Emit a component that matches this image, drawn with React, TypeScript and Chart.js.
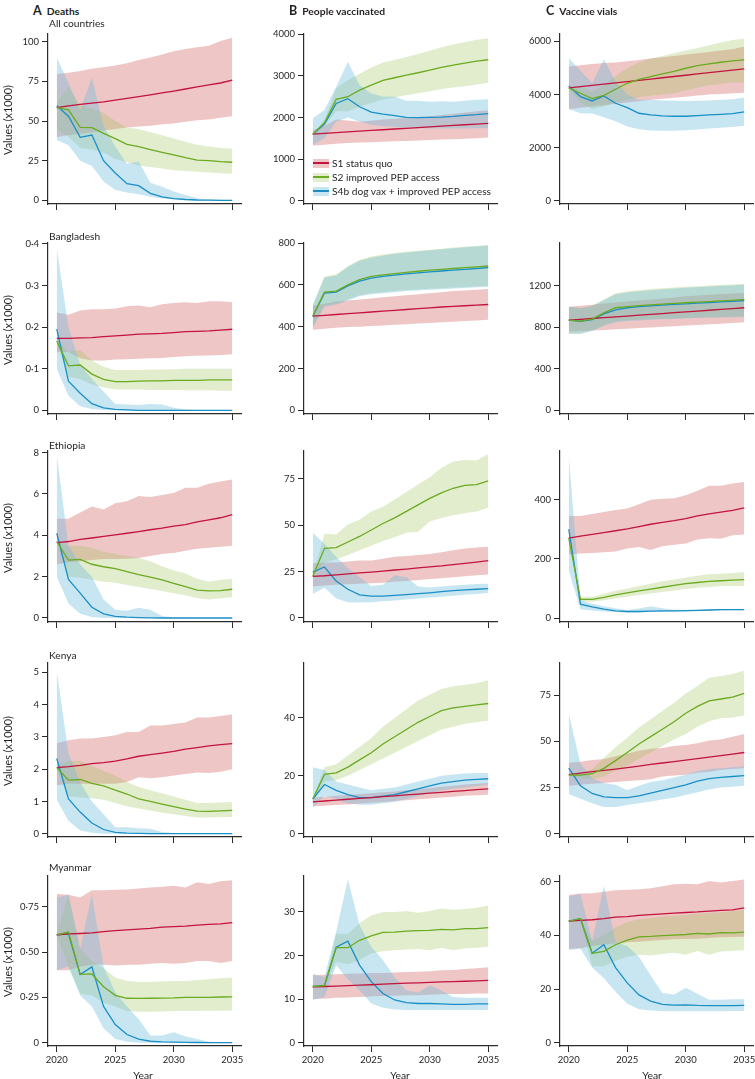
import React, { useEffect, useRef } from 'react';
import { Chart, registerables } from 'chart.js';
Chart.register(...registerables);

// ---------------- DATA ----------------
const years = [2020, 2021, 2022, 2023, 2024, 2025, 2026, 2027, 2028, 2029, 2030, 2031, 2032, 2033, 2034, 2035];
const xTicks = [2020, 2025, 2030, 2035];
const seriesNames = ['S1 status quo', 'S2 improved PEP access', 'S4b dog vax + improved PEP access'];
const columnTitles = ['Deaths', 'People vaccinated', 'Vaccine vials'];
const columnLetters = ['A', 'B', 'C'];
const regions = ['All countries', 'Bangladesh', 'Ethiopia', 'Kenya', 'Myanmar'];

// All countries – deaths
const allDeathsS1 = [58.4, 59.5, 60.5, 61.3, 62.1, 63.2, 64.3, 65.4, 66.5, 67.7, 68.9, 70.2, 71.5, 72.8, 74.0, 75.8];
const allDeathsS1Lo = [40, 41, 42, 43, 44, 45, 46, 46.5, 47, 48, 48.5, 49.5, 50.5, 51, 52, 53];
const allDeathsS1Hi = [79.6, 80.5, 81.5, 83, 84, 85, 86.5, 88.5, 90, 92, 94, 95.5, 96.5, 97.5, 100.5, 102.5];
const allDeathsS2 = [58.5, 57, 46, 45.8, 42.2, 38.9, 35.3, 33.8, 32, 30.3, 28.6, 26.9, 25.4, 25, 24.4, 24];
const allDeathsS2Lo = [45, 40, 33, 32, 30, 26, 24, 22, 21, 20, 19, 18.5, 18, 17.5, 17, 16.8];
const allDeathsS2Hi = [62, 72, 60, 58, 55, 50, 46, 45, 43, 41, 39, 37, 35, 34, 33, 32.5];
const allDeathsS4 = [59.7, 53, 39.7, 41.2, 25, 17.2, 10.5, 9.2, 4.4, 2.1, 1, 0.5, 0.2, 0.1, 0, 0];
const allDeathsS4Lo = [38, 34.7, 25, 21.6, 11.8, 6.5, 5, 3.8, 2.3, 1.2, 0.6, 0.3, 0.1, 0, 0, 0];
const allDeathsS4Hi = [90, 74, 57, 77.5, 47, 34, 23, 24.4, 11, 8.6, 5.5, 3.4, 1.3, 0.5, 0.3, 0.2];
const allDeathsTicks = ['0', '25', '50', '75', '100'];

// All countries – people vaccinated
const allVaccS1 = [1600, 1618, 1636, 1654, 1672, 1690, 1707, 1724, 1741, 1758, 1775, 1792, 1809, 1826, 1842, 1858];
const allVaccS1Lo = [1330, 1350, 1370, 1390, 1400, 1410, 1420, 1430, 1440, 1450, 1460, 1470, 1480, 1490, 1505, 1520];
const allVaccS1Hi = [1700, 1800, 1950, 1930, 1900, 1920, 1950, 1970, 1990, 2010, 2030, 2060, 2090, 2120, 2150, 2175];
const allVaccS2 = [1600, 1875, 2434, 2498, 2657, 2777, 2889, 2952, 3016, 3072, 3136, 3200, 3256, 3303, 3351, 3383];
const allVaccS2Lo = [1600, 1800, 2150, 2150, 2250, 2350, 2430, 2480, 2530, 2580, 2630, 2680, 2720, 2750, 2790, 2830];
const allVaccS2Hi = [1600, 1950, 2700, 2900, 3050, 3200, 3320, 3380, 3450, 3520, 3600, 3680, 3750, 3800, 3860, 3900];
const allVaccS4 = [1600, 1843, 2337, 2449, 2258, 2130, 2083, 2043, 2003, 1995, 2003, 2011, 2027, 2051, 2067, 2091];
const allVaccS4Lo = [1340, 1500, 1900, 2000, 1900, 1820, 1790, 1770, 1750, 1740, 1735, 1735, 1735, 1738, 1740, 1745];
const allVaccS4Hi = [1979, 2180, 2737, 3335, 2777, 2577, 2500, 2500, 2400, 2400, 2380, 2390, 2380, 2400, 2425, 2435];
const allVaccTicks = ['0', '1000', '2000', '3000', '4000'];

// All countries – vaccine vials
const allVialsS1 = [4250, 4297, 4345, 4392, 4440, 4487, 4535, 4582, 4630, 4677, 4725, 4772, 4820, 4867, 4915, 4960];
const allVialsS1Lo = [3450, 3500, 3550, 3600, 3650, 3700, 3750, 3800, 3840, 3880, 3920, 3960, 4000, 4020, 4050, 4070];
const allVialsS1Hi = [5050, 5100, 5150, 5180, 5200, 5250, 5300, 5350, 5400, 5450, 5500, 5550, 5600, 5650, 5700, 5800];
const allVialsS2 = [4250, 4047, 3846, 3972, 4197, 4423, 4573, 4674, 4774, 4874, 4987, 5087, 5150, 5212, 5262, 5300];
const allVialsS2Lo = [4200, 3700, 3450, 3550, 3700, 3800, 3900, 3950, 4000, 4050, 4150, 4250, 4350, 4400, 4450, 4450];
const allVialsS2Hi = [4300, 4300, 4100, 4350, 4700, 5000, 5200, 5350, 5450, 5550, 5650, 5750, 5850, 5950, 6050, 6100];
const allVialsS4 = [4323, 3922, 3759, 3947, 3672, 3508, 3296, 3233, 3196, 3183, 3183, 3208, 3233, 3258, 3283, 3346];
const allVialsS4Lo = [3458, 3300, 3283, 3150, 3000, 2800, 2700, 2650, 2640, 2640, 2660, 2690, 2720, 2750, 2780, 2830];
const allVialsS4Hi = [5363, 4900, 4423, 5325, 4500, 4000, 3800, 3800, 3780, 3770, 3760, 3770, 3780, 3800, 3820, 3884];
const allVialsTicks = ['0', '2000', '4000', '6000'];

// Bangladesh
const bdDeathsS1 = [0.173, 0.173, 0.174, 0.175, 0.177, 0.179, 0.181, 0.183, 0.184, 0.185, 0.187, 0.189, 0.19, 0.191, 0.193, 0.195];
const bdDeathsS1Lo = [0.14, 0.14, 0.125, 0.12, 0.12, 0.122, 0.123, 0.124, 0.125, 0.126, 0.128, 0.13, 0.131, 0.132, 0.133, 0.135];
const bdDeathsS1Hi = [0.235, 0.23, 0.24, 0.243, 0.243, 0.245, 0.25, 0.252, 0.248, 0.255, 0.258, 0.26, 0.258, 0.262, 0.262, 0.26];
const bdDeathsS2 = [0.167, 0.107, 0.109, 0.087, 0.0745, 0.069, 0.069, 0.07, 0.071, 0.071, 0.072, 0.072, 0.072, 0.073, 0.073, 0.073];
const bdDeathsS2Lo = [0.16, 0.08, 0.075, 0.062, 0.055, 0.05, 0.05, 0.05, 0.049, 0.049, 0.049, 0.048, 0.048, 0.048, 0.047, 0.047];
const bdDeathsS2Hi = [0.17, 0.14, 0.145, 0.12, 0.105, 0.097, 0.097, 0.097, 0.098, 0.098, 0.099, 0.1, 0.1, 0.1, 0.1, 0.1];
const bdDeathsS4 = [0.195, 0.07, 0.041, 0.016, 0.006, 0.002, 0.001, 0, 0, 0, 0, 0, 0, 0, 0, 0];
const bdDeathsS4Lo = [0.1, 0.035, 0.01, 0.003, 0.001, 0, 0, 0, 0, 0, 0, 0, 0, 0, 0, 0];
const bdDeathsS4Hi = [0.39, 0.2, 0.11, 0.075, 0.045, 0.015, 0.014, 0.013, 0.015, 0.014, 0.006, 0.002, 0.001, 0.001, 0.001, 0.001];
const bdDeathsTicks = ['0', '0·1', '0·2', '0·3', '0·4'];

const bdVaccS1 = [450, 454, 458, 462, 466, 470, 474, 478, 482, 486, 490, 494, 497, 500, 503, 506];
const bdVaccS1Lo = [385, 390, 395, 398, 400, 403, 406, 409, 412, 415, 418, 421, 424, 427, 430, 433];
const bdVaccS1Hi = [500, 510, 520, 525, 530, 535, 540, 545, 550, 555, 560, 565, 570, 573, 576, 580];
const bdVaccS2 = [450, 565, 570, 600, 625, 640, 648, 654, 660, 665, 670, 674, 678, 682, 686, 690];
const bdVaccS2Lo = [400, 500, 510, 530, 550, 560, 565, 570, 575, 578, 581, 584, 587, 590, 592, 595];
const bdVaccS2Hi = [500, 640, 650, 690, 720, 735, 745, 752, 758, 763, 768, 773, 778, 782, 786, 790];
const bdVaccS4 = [450, 560, 565, 595, 618, 632, 640, 646, 652, 657, 662, 666, 670, 674, 678, 682];
const bdVaccS4Lo = [395, 495, 505, 525, 545, 555, 560, 565, 570, 573, 576, 579, 582, 585, 588, 590];
const bdVaccS4Hi = [505, 635, 645, 685, 715, 730, 740, 748, 755, 760, 765, 770, 775, 780, 784, 788];
const bdVaccTicks = ['0', '200', '400', '600', '800'];

const bdVialsS1 = [870, 878, 886, 894, 902, 910, 918, 926, 934, 942, 950, 958, 966, 974, 982, 990];
const bdVialsS1Lo = [760, 765, 770, 776, 782, 788, 794, 800, 806, 812, 818, 824, 830, 836, 843, 850];
const bdVialsS1Hi = [1000, 1010, 1020, 1030, 1040, 1050, 1060, 1070, 1080, 1090, 1100, 1108, 1116, 1122, 1128, 1135];
const bdVialsS2 = [870, 860, 880, 940, 990, 1000, 1010, 1018, 1025, 1032, 1038, 1044, 1050, 1056, 1062, 1070];
const bdVialsS2Lo = [740, 740, 770, 820, 860, 870, 875, 880, 884, 888, 892, 895, 898, 900, 902, 905];
const bdVialsS2Hi = [1000, 990, 1010, 1070, 1130, 1150, 1160, 1170, 1178, 1185, 1192, 1198, 1204, 1210, 1215, 1220];
const bdVialsS4 = [870, 858, 876, 930, 970, 990, 1000, 1008, 1015, 1022, 1028, 1034, 1040, 1046, 1052, 1060];
const bdVialsS4Lo = [740, 738, 765, 815, 850, 862, 868, 873, 878, 882, 886, 890, 893, 896, 899, 902];
const bdVialsS4Hi = [1000, 985, 1005, 1065, 1120, 1140, 1150, 1160, 1168, 1176, 1184, 1190, 1196, 1202, 1208, 1214];
const bdVialsTicks = ['0', '400', '800', '1200'];

// Ethiopia
const etDeathsS1 = [3.65, 3.7, 3.8, 3.87, 3.95, 4.02, 4.1, 4.18, 4.27, 4.35, 4.45, 4.52, 4.65, 4.75, 4.85, 5.0];
const etDeathsS1Lo = [2.6, 2.7, 2.75, 2.8, 2.85, 2.85, 2.87, 2.9, 3.0, 3.1, 3.15, 3.25, 3.35, 3.4, 3.45, 3.5];
const etDeathsS1Hi = [4.8, 4.8, 5.1, 5.4, 5.25, 5.55, 5.65, 5.9, 5.85, 5.95, 6.05, 6.3, 6.3, 6.5, 6.6, 6.7];
const etDeathsS2 = [3.7, 2.8, 2.84, 2.6, 2.48, 2.39, 2.24, 2.1, 1.98, 1.84, 1.68, 1.52, 1.35, 1.31, 1.32, 1.39];
const etDeathsS2Lo = [3.6, 2.0, 1.95, 1.85, 1.75, 1.7, 1.6, 1.5, 1.4, 1.3, 1.2, 1.1, 0.95, 0.9, 0.95, 1.0];
const etDeathsS2Hi = [3.7, 3.5, 3.5, 3.4, 3.2, 3.1, 3.0, 2.9, 2.75, 2.5, 2.3, 2.15, 1.9, 1.75, 1.85, 1.9];
const etDeathsS4 = [4.1, 1.87, 1.2, 0.52, 0.2, 0.08, 0.04, 0.02, 0.01, 0, 0, 0, 0, 0, 0, 0];
const etDeathsS4Lo = [2.0, 0.7, 0.2, 0.05, 0, 0, 0, 0, 0, 0, 0, 0, 0, 0, 0, 0];
const etDeathsS4Hi = [7.9, 3.5, 2.6, 2.0, 0.9, 0.4, 0.35, 0.5, 0.4, 0.1, 0.02, 0, 0, 0, 0, 0];
const etDeathsTicks = ['0', '2', '4', '6', '8'];

const etVaccS1 = [22.5, 22.8, 23.3, 23.8, 24.3, 24.8, 25.3, 25.9, 26.4, 27.0, 27.6, 28.1, 28.8, 29.5, 30.2, 31.0];
const etVaccS1Lo = [17, 17.5, 18, 18.2, 18.5, 18.8, 19, 19.5, 20, 20.5, 21, 21.5, 22, 22.5, 23, 23.5];
const etVaccS1Hi = [29.5, 30, 30, 30.5, 31, 31, 32, 33, 33.5, 34, 34.5, 35.5, 36.5, 37.5, 38, 38.5];
const etVaccS2 = [22.5, 37.6, 38, 41, 44, 47.5, 51, 54, 57.5, 61, 64.5, 67.5, 70, 71.5, 72, 74];
const etVaccS2Lo = [22, 30, 31.5, 34, 36.5, 39, 41.5, 43.5, 46, 46.5, 52, 54, 55.5, 56.5, 57.5, 59.5];
const etVaccS2Hi = [23, 45.5, 45, 50.5, 53, 57.5, 60, 64, 68, 72, 76, 81, 84.5, 85.3, 85, 88.5];
const etVaccS4 = [24.8, 27.5, 20, 15.5, 12.5, 11.8, 11.8, 12.2, 12.6, 13.1, 13.6, 14.2, 14.8, 15.2, 15.5, 15.8];
const etVaccS4Lo = [13, 16.5, 10.5, 8.5, 8.3, 8.5, 9, 9.5, 10, 10.5, 11, 11.5, 12, 12.5, 13, 13.5];
const etVaccS4Hi = [46, 40, 33, 27, 22, 17.3, 18, 23, 22, 17, 16.5, 17, 17.5, 18, 18.3, 18.5];
const etVaccTicks = ['0', '25', '50', '75'];

const etVialsS1 = [270, 277, 283, 289, 295, 301, 309, 317, 323, 329, 336, 345, 352, 358, 364, 372];
const etVialsS1Lo = [215, 218, 220, 222, 225, 235, 240, 230, 243, 248, 252, 265, 270, 268, 280, 282];
const etVialsS1Hi = [345, 345, 352, 358, 365, 370, 385, 400, 403, 405, 415, 430, 447, 447, 455, 460];
const etVialsS2 = [270, 63, 63, 70, 78, 85, 92, 98, 104, 110, 116, 120, 124, 126, 128, 130];
const etVialsS2Lo = [268, 55, 55, 60, 66, 72, 78, 83, 88, 93, 98, 102, 105, 108, 108, 108];
const etVialsS2Hi = [272, 72, 72, 82, 92, 100, 108, 116, 124, 130, 136, 143, 148, 150, 152, 155];
const etVialsS4 = [300, 47, 38, 30, 24, 22, 22, 23, 24, 24, 25, 26, 27, 28, 28, 28];
const etVialsS4Lo = [160, 30, 25, 22, 20, 18, 19, 20, 20, 21, 22, 23, 24, 25, 26, 26];
const etVialsS4Hi = [550, 60, 48, 40, 33, 27, 32, 40, 33, 28, 27, 28, 29, 30, 30, 30];
const etVialsTicks = ['0', '200', '400'];

// Kenya
const keDeathsS1 = [2.05, 2.08, 2.12, 2.17, 2.2, 2.25, 2.32, 2.4, 2.45, 2.5, 2.55, 2.62, 2.67, 2.72, 2.76, 2.79];
const keDeathsS1Lo = [1.5, 1.55, 1.55, 1.55, 1.55, 1.55, 1.6, 1.75, 1.72, 1.75, 1.8, 1.85, 1.9, 1.88, 1.92, 2.0];
const keDeathsS1Hi = [2.8, 2.9, 2.95, 2.95, 3.0, 3.05, 3.15, 3.15, 3.35, 3.35, 3.4, 3.45, 3.6, 3.6, 3.65, 3.7];
const keDeathsS2 = [2.05, 1.66, 1.68, 1.56, 1.48, 1.35, 1.23, 1.08, 1.0, 0.92, 0.84, 0.76, 0.7, 0.69, 0.71, 0.72];
const keDeathsS2Lo = [2.0, 1.15, 1.12, 1.1, 1.05, 0.95, 0.85, 0.78, 0.72, 0.65, 0.6, 0.55, 0.5, 0.5, 0.52, 0.52];
const keDeathsS2Hi = [2.1, 2.25, 2.25, 2.1, 1.95, 1.8, 1.6, 1.45, 1.35, 1.25, 1.15, 1.05, 0.95, 0.95, 0.97, 0.98];
const keDeathsS4 = [2.33, 1.08, 0.67, 0.33, 0.13, 0.04, 0.02, 0.01, 0, 0, 0, 0, 0, 0, 0, 0];
const keDeathsS4Lo = [1.05, 0.4, 0.1, 0.03, 0, 0, 0, 0, 0, 0, 0, 0, 0, 0, 0, 0];
const keDeathsS4Hi = [5.05, 2.5, 1.6, 1.0, 0.6, 0.2, 0.2, 0.17, 0.15, 0.05, 0.02, 0.01, 0, 0, 0, 0];
const keDeathsTicks = ['0', '1', '2', '3', '4', '5'];

const keVaccS1 = [11, 11.3, 11.6, 11.9, 12.2, 12.5, 12.8, 13.1, 13.4, 13.7, 14, 14.3, 14.6, 14.9, 15.2, 15.5];
const keVaccS1Lo = [9.5, 9.7, 9.9, 10.1, 10.4, 10.7, 11, 11.3, 11.6, 11.9, 12.2, 12.5, 12.8, 13.1, 13.3, 13.5];
const keVaccS1Hi = [12.5, 12.8, 13.1, 13.4, 13.7, 14, 14.3, 14.6, 15, 15.4, 15.8, 16.2, 16.6, 17, 17.3, 17.5];
const keVaccS2 = [12, 20.5, 21, 23, 25.5, 28, 31, 33.5, 36, 38.5, 40.5, 42.5, 43.5, 44, 44.5, 45];
const keVaccS2Lo = [11, 18, 18.5, 20, 22, 24, 26, 28, 30, 32, 34, 36, 37, 38, 38.5, 39];
const keVaccS2Hi = [12, 23, 24, 27, 30, 33, 37, 40, 43, 46, 48, 50, 51, 51.5, 52, 53];
const keVaccS4 = [12, 17, 15, 13.5, 12.5, 12.5, 13, 13.5, 14.5, 15.5, 16.5, 17.5, 18, 18.5, 18.8, 19];
const keVaccS4Lo = [9, 13, 12, 10.5, 10, 10, 10.5, 11, 12, 13, 14, 15, 15.5, 16, 16.5, 17];
const keVaccS4Hi = [23, 22, 18, 17, 16, 15, 15.5, 16, 17, 18, 19, 20, 20.5, 20.8, 21, 21];
const keVaccTicks = ['0', '20', '40'];

const keVialsS1 = [32, 32.8, 33.6, 34.3, 35, 35.8, 36.6, 37.6, 38.3, 39.1, 39.9, 40.7, 41.5, 42.3, 43.1, 44];
const keVialsS1Lo = [26, 26.5, 27, 27.5, 28, 28.5, 29, 29.5, 31, 31.5, 32, 33, 33.5, 34.5, 35, 35.5];
const keVialsS1Hi = [38.5, 39, 40, 40.5, 42, 43.5, 45, 46, 46.5, 47.5, 48, 49, 50.5, 51, 52.5, 54];
const keVialsS2 = [31.8, 31.7, 32.5, 35.4, 39.6, 44, 48.6, 52.6, 56.6, 60.7, 65.3, 69, 72, 73, 74, 76];
const keVialsS2Lo = [31, 30, 29.5, 31, 34, 37, 40.5, 44, 47.5, 51, 54, 58, 61, 62.5, 63, 64];
const keVialsS2Hi = [32.5, 33, 35, 41, 47, 52, 57.5, 62, 66.5, 71, 76, 80, 84.5, 85.5, 86.5, 88.5];
const keVialsS4 = [35.5, 26, 21.8, 20, 19.5, 19.6, 20.5, 22, 23.5, 25, 26.5, 28.5, 29.8, 30.5, 31, 31.5];
const keVialsS4Lo = [21.5, 19, 16.5, 14.5, 14.5, 15.5, 16.5, 17.5, 18.5, 19.5, 21, 22.5, 24, 25, 25.5, 26];
const keVialsS4Hi = [65, 38, 30, 27.5, 26.5, 23.5, 26, 28, 29, 30.5, 32, 34, 35, 35.5, 36, 36.5];
const keVialsTicks = ['0', '25', '50', '75'];

// Myanmar
const myDeathsS1 = [0.595, 0.6, 0.602, 0.605, 0.612, 0.618, 0.622, 0.626, 0.63, 0.637, 0.64, 0.643, 0.648, 0.652, 0.655, 0.662];
const myDeathsS1Lo = [0.4, 0.4, 0.42, 0.43, 0.43, 0.425, 0.43, 0.43, 0.435, 0.44, 0.435, 0.44, 0.45, 0.45, 0.44, 0.45];
const myDeathsS1Hi = [0.82, 0.815, 0.8, 0.84, 0.84, 0.843, 0.845, 0.85, 0.855, 0.86, 0.865, 0.855, 0.885, 0.875, 0.89, 0.895];
const myDeathsS2 = [0.595, 0.61, 0.377, 0.379, 0.309, 0.261, 0.245, 0.244, 0.245, 0.246, 0.247, 0.25, 0.25, 0.25, 0.252, 0.253];
const myDeathsS2Lo = [0.59, 0.42, 0.27, 0.26, 0.22, 0.2, 0.175, 0.17, 0.17, 0.172, 0.175, 0.175, 0.175, 0.176, 0.176, 0.178];
const myDeathsS2Hi = [0.6, 0.82, 0.52, 0.45, 0.41, 0.36, 0.34, 0.335, 0.335, 0.338, 0.34, 0.34, 0.345, 0.35, 0.355, 0.36];
const myDeathsS4 = [0.595, 0.6, 0.376, 0.418, 0.2, 0.1, 0.045, 0.02, 0.008, 0.004, 0.003, 0.002, 0.001, 0, 0, 0];
const myDeathsS4Lo = [0.4, 0.42, 0.26, 0.2, 0.08, 0.02, 0.005, 0, 0, 0, 0, 0, 0, 0, 0, 0];
const myDeathsS4Hi = [0.8, 0.815, 0.52, 0.82, 0.42, 0.28, 0.2, 0.13, 0.04, 0.04, 0.058, 0.035, 0.02, 0.005, 0.002, 0.002];
const myDeathsTicks = ['0', '0·25', '0·50', '0·75'];

const myVaccS1 = [12.8, 12.9, 13.0, 13.1, 13.2, 13.3, 13.45, 13.55, 13.65, 13.75, 13.85, 13.95, 14.0, 14.1, 14.2, 14.3];
const myVaccS1Lo = [10.0, 10.1, 10.3, 10.4, 10.5, 10.6, 10.7, 10.8, 10.9, 10.9, 11.0, 11.1, 11.2, 11.2, 11.3, 11.3];
const myVaccS1Hi = [15.5, 15.6, 15.7, 15.8, 15.9, 16.0, 16.0, 16.1, 16.2, 16.3, 16.4, 16.6, 16.7, 16.9, 17.1, 17.3];
const myVaccS2 = [12.9, 13.1, 21.8, 21.8, 23.5, 24.5, 25.3, 25.4, 25.6, 25.7, 25.8, 26.0, 25.9, 26.2, 26.2, 26.4];
const myVaccS2Lo = [12.8, 12.8, 18.5, 18, 19, 20.5, 21, 21.2, 21.4, 21.5, 21.2, 21.8, 21.2, 21.6, 21.8, 22];
const myVaccS2Hi = [13.0, 13.5, 25, 25, 27.5, 29.2, 30, 30, 30.2, 29.8, 30.2, 30.8, 30.5, 30.7, 31, 31.5];
const myVaccS4 = [12.9, 13.1, 21.9, 23.3, 17.8, 14.0, 11.3, 9.8, 9.2, 9.0, 9.0, 8.9, 8.8, 8.8, 8.9, 8.9];
const myVaccS4Lo = [9.8, 10.5, 17.8, 14.5, 12, 9, 8, 7.6, 7.5, 7.5, 7.5, 7.5, 7.5, 7.5, 7.5, 7.5];
const myVaccS4Hi = [15.8, 15.0, 25.5, 37.5, 27, 22, 19, 15, 12, 11.5, 13.2, 12, 10.5, 10.3, 10.3, 10.3];
const myVaccTicks = ['0', '10', '20', '30'];

const myVialsS1 = [45.3, 45.6, 45.8, 46.2, 46.8, 47.0, 47.4, 47.7, 48.0, 48.3, 48.5, 48.7, 49.0, 49.3, 49.5, 50.2];
const myVialsS1Lo = [35, 35.2, 36, 36.5, 37, 37.4, 37.6, 38, 38.3, 38.5, 38.6, 38.7, 39, 39.3, 39.4, 39.5];
const myVialsS1Hi = [55, 55.6, 55.7, 56.2, 56.8, 57, 57.2, 57.5, 58.3, 59, 59.2, 59, 60.2, 59.7, 60.2, 60.8];
const myVialsS2 = [45.3, 46.2, 33.3, 34, 36.5, 38.2, 39.4, 39.6, 39.9, 40.1, 40.3, 40.7, 40.5, 41, 40.9, 41.2];
const myVialsS2Lo = [45, 45.5, 28.5, 28.5, 30.5, 32, 32.8, 32.5, 33, 33.5, 32.8, 34.2, 32.8, 34, 34.2, 34.5];
const myVialsS2Hi = [45.5, 46.5, 38, 40, 43, 45, 46, 46.5, 47, 47.3, 47.6, 48, 48.3, 48.6, 49, 49.5];
const myVialsS4 = [45.3, 46.2, 33.3, 36.5, 28, 22.3, 17.8, 15.5, 14.3, 14.0, 14.1, 13.9, 13.8, 13.8, 13.8, 13.9];
const myVialsS4Lo = [34.5, 35, 28, 24, 19, 14.5, 12.5, 12, 11.8, 11.7, 11.7, 11.7, 11.7, 11.7, 11.8, 11.8];
const myVialsS4Hi = [54.5, 55.5, 38, 58.5, 37.5, 36, 32, 25, 18.5, 18, 20.5, 18.2, 16, 16, 16.2, 16.2];
const myVialsTicks = ['0', '20', '40', '60'];

// ---------------- STYLE / LAYOUT ----------------
const FONT = 'Lato, "Open Sans", sans-serif';
const TEXT = '#231f20';
const AXIS = '#2b2b2b';
const LINE_COLORS = ['#c2143c', '#6aab1f', '#1a8fc6'];
const BAND_COLORS = ['rgba(214,112,112,0.40)', 'rgba(150,190,80,0.28)', 'rgba(110,190,222,0.38)'];

const COL_LEFT = [48, 304, 560];
const PLOT_W = 193;
const ROW_TOP = [34, 243, 451, 663, 876];
const ROW_BOTTOM = [204, 414, 622, 837, 1046];
const YW = 46;
const PAD_TOP = 8;
const PAD_RIGHT = 14;

type Panel = {
  row: number; col: number; ticks: string[]; yMin: number; yMax: number;
  mids: number[][]; los: number[][]; his: number[][];
};

const P = (row: number, col: number, ticks: string[], yMin: number, yMax: number,
  s1: number[], s1Lo: number[], s1Hi: number[], s2: number[], s2Lo: number[], s2Hi: number[],
  s4: number[], s4Lo: number[], s4Hi: number[]): Panel => ({
  row, col, ticks, yMin, yMax, mids: [s1, s2, s4], los: [s1Lo, s2Lo, s4Lo], his: [s1Hi, s2Hi, s4Hi],
});

const panels: Panel[] = [
  P(0, 0, allDeathsTicks, -2.33, 104.9, allDeathsS1, allDeathsS1Lo, allDeathsS1Hi, allDeathsS2, allDeathsS2Lo, allDeathsS2Hi, allDeathsS4, allDeathsS4Lo, allDeathsS4Hi),
  P(0, 1, allVaccTicks, -72, 4000, allVaccS1, allVaccS1Lo, allVaccS1Hi, allVaccS2, allVaccS2Lo, allVaccS2Hi, allVaccS4, allVaccS4Lo, allVaccS4Hi),
  P(0, 2, allVialsTicks, -113, 6274, allVialsS1, allVialsS1Lo, allVialsS1Hi, allVialsS2, allVialsS2Lo, allVialsS2Hi, allVialsS4, allVialsS4Lo, allVialsS4Hi),
  P(1, 0, bdDeathsTicks, -0.0089, 0.4024, bdDeathsS1, bdDeathsS1Lo, bdDeathsS1Hi, bdDeathsS2, bdDeathsS2Lo, bdDeathsS2Hi, bdDeathsS4, bdDeathsS4Lo, bdDeathsS4Hi),
  P(1, 1, bdVaccTicks, -17.7, 800, bdVaccS1, bdVaccS1Lo, bdVaccS1Hi, bdVaccS2, bdVaccS2Lo, bdVaccS2Hi, bdVaccS4, bdVaccS4Lo, bdVaccS4Hi),
  P(1, 2, bdVialsTicks, -35.7, 1615, bdVialsS1, bdVialsS1Lo, bdVialsS1Hi, bdVialsS2, bdVialsS2Lo, bdVialsS2Hi, bdVialsS4, bdVialsS4Lo, bdVialsS4Hi),
  P(2, 0, etDeathsTicks, -0.194, 8.08, etDeathsS1, etDeathsS1Lo, etDeathsS1Hi, etDeathsS2, etDeathsS2Lo, etDeathsS2Hi, etDeathsS4, etDeathsS4Lo, etDeathsS4Hi),
  P(2, 1, etVaccTicks, -2.16, 90.1, etVaccS1, etVaccS1Lo, etVaccS1Hi, etVaccS2, etVaccS2Lo, etVaccS2Hi, etVaccS4, etVaccS4Lo, etVaccS4Hi),
  P(2, 2, etVialsTicks, -13.5, 564.6, etVialsS1, etVialsS1Lo, etVialsS1Hi, etVialsS2, etVialsS2Lo, etVialsS2Hi, etVialsS4, etVialsS4Lo, etVialsS4Hi),
  P(3, 0, keDeathsTicks, -0.102, 5.29, keDeathsS1, keDeathsS1Lo, keDeathsS1Hi, keDeathsS2, keDeathsS2Lo, keDeathsS2Hi, keDeathsS4, keDeathsS4Lo, keDeathsS4Hi),
  P(3, 1, keVaccTicks, -1.14, 59, keVaccS1, keVaccS1Lo, keVaccS1Hi, keVaccS2, keVaccS2Lo, keVaccS2Hi, keVaccS4, keVaccS4Lo, keVaccS4Hi),
  P(3, 2, keVialsTicks, -1.79, 92.5, keVialsS1, keVialsS1Lo, keVialsS1Hi, keVialsS2, keVialsS2Lo, keVialsS2Hi, keVialsS4, keVialsS4Lo, keVialsS4Hi),
  P(4, 0, myDeathsTicks, -0.0182, 0.919, myDeathsS1, myDeathsS1Lo, myDeathsS1Hi, myDeathsS2, myDeathsS2Lo, myDeathsS2Hi, myDeathsS4, myDeathsS4Lo, myDeathsS4Hi),
  P(4, 1, myVaccTicks, -0.76, 38.26, myVaccS1, myVaccS1Lo, myVaccS1Hi, myVaccS2, myVaccS2Lo, myVaccS2Hi, myVaccS4, myVaccS4Lo, myVaccS4Hi),
  P(4, 2, myVialsTicks, -1.23, 62.1, myVialsS1, myVialsS1Lo, myVialsS1Hi, myVialsS2, myVialsS2Lo, myVialsS2Hi, myVialsS4, myVialsS4Lo, myVialsS4Hi),
];

const toPts = (vals: number[]) => vals.map((v, i) => ({ x: years[i], y: v }));

function PanelChart({ p }: { p: Panel }) {
  const ref = useRef<HTMLCanvasElement>(null);
  const isBottom = p.row === 4;
  const xh = isBottom ? 26 : 8;
  const plotH = ROW_BOTTOM[p.row] - ROW_TOP[p.row];
  const w = YW + PLOT_W + PAD_RIGHT;
  const h = PAD_TOP + plotH + xh;
  const left = COL_LEFT[p.col] - YW;
  const top = ROW_TOP[p.row] - PAD_TOP;

  useEffect(() => {
    const tickVals = p.ticks.map((t) => parseFloat(t.replace('·', '.')));
    const datasets: any[] = [];
    // lines: earlier datasets are drawn on top
    [1, 0, 2].forEach((s) => {
      datasets.push({
        data: toPts(p.mids[s]), borderColor: LINE_COLORS[s], borderWidth: 1.3,
        pointRadius: 0, fill: false, tension: 0, backgroundColor: 'rgba(0,0,0,0)',
      });
    });
    // bands: filler paints from the last dataset to the first, so blue ends on top
    [2, 1, 0].forEach((s) => {
      datasets.push({
        data: toPts(p.los[s]), borderColor: 'rgba(0,0,0,0)', borderWidth: 1,
        pointRadius: 0, fill: false, tension: 0, backgroundColor: 'rgba(0,0,0,0)',
      });
      datasets.push({
        data: toPts(p.his[s]), borderColor: 'rgba(0,0,0,0)', borderWidth: 1,
        pointRadius: 0, fill: '-1', tension: 0, backgroundColor: BAND_COLORS[s],
      });
    });
    const tickFont = { family: FONT, size: 9.5 };
    const chart = new Chart(ref.current as HTMLCanvasElement, {
      type: 'line',
      data: { datasets },
      options: {
        responsive: false,
        animation: false,
        events: [],
        layout: { padding: { top: PAD_TOP, right: PAD_RIGHT, left: 0, bottom: 0 } },
        plugins: {
          legend: { display: false },
          tooltip: { enabled: false },
          filler: { drawTime: 'beforeDatasetsDraw' },
        } as any,
        scales: {
          x: {
            type: 'linear', min: 2019.25, max: 2035.75,
            afterBuildTicks: (s: any) => { s.ticks = xTicks.map((v) => ({ value: v })); },
            afterFit: (s: any) => { s.height = xh; s.paddingLeft = 0; s.paddingRight = 0; },
            grid: { drawOnChartArea: false, drawTicks: true, tickLength: 6, color: AXIS, lineWidth: 1 },
            border: { display: true, color: AXIS, width: 1.2 },
            ticks: {
              display: isBottom, padding: 2, color: TEXT, font: tickFont,
              maxRotation: 0, autoSkip: false, callback: (v: any) => String(v),
            },
          },
          y: {
            type: 'linear', min: p.yMin, max: p.yMax,
            afterBuildTicks: (s: any) => { s.ticks = tickVals.map((v) => ({ value: v })); },
            afterFit: (s: any) => { s.width = YW; s.paddingTop = 0; s.paddingBottom = 0; },
            grid: { drawOnChartArea: false, drawTicks: true, tickLength: 6, color: AXIS, lineWidth: 1 },
            border: { display: true, color: AXIS, width: 1.2 },
            ticks: {
              padding: 3, color: TEXT, font: tickFont, autoSkip: false,
              callback: (_v: any, i: number) => p.ticks[i],
            },
          },
        } as any,
      },
    });
    return () => chart.destroy();
  }, []);

  return (
    <canvas ref={ref} width={w} height={h}
      style={{ position: 'absolute', left, top, width: w, height: h }} />
  );
}

const txt = (extra: React.CSSProperties): React.CSSProperties => ({
  position: 'absolute', fontFamily: FONT, color: TEXT, whiteSpace: 'nowrap', lineHeight: 1, ...extra,
});

export default function App() {
  const headerX = [33, 289, 546];
  return (
    <div style={{ position: 'absolute', left: 0, top: 0, width: 755, height: 1079, overflow: 'hidden', background: '#fff' }}>
      {panels.map((p, i) => <PanelChart key={i} p={p} />)}

      {columnTitles.map((t, c) => (
        <div key={'h' + c} style={txt({ left: headerX[c], top: 1, fontWeight: 700 })}>
          <span style={{ fontSize: 12.5, marginRight: 5 }}>{columnLetters[c]}</span>
          <span style={{ fontSize: 10.3 }}>{t}</span>
        </div>
      ))}

      {regions.map((r, i) => (
        <div key={'r' + i} style={txt({ left: 49, top: [17.5, 230.5, 440, 649.5, 861.5][i], fontSize: 10.2 })}>{r}</div>
      ))}

      {ROW_TOP.map((t, i) => (
        <div key={'yt' + i} style={txt({
          left: 7.5, top: (t + ROW_BOTTOM[i]) / 2 + 1, fontSize: 10.8,
          transform: 'translate(-50%, -50%) rotate(-90deg)',
        })}>Values (x1000)</div>
      ))}

      {COL_LEFT.map((l, c) => (
        <div key={'yr' + c} style={txt({ left: [143, 400, 652][c], top: 1075, fontSize: 10.3, transform: 'translate(-50%, -50%)' })}>Year</div>
      ))}

      {seriesNames.map((n, s) => (
        <div key={'lg' + s} style={{ position: 'absolute', left: 313, top: [163, 177, 191][s] - 5, height: 10, display: 'flex', alignItems: 'center' }}>
          <div style={{ position: 'relative', width: 16, height: 9, background: BAND_COLORS[s] }}>
            <div style={{ position: 'absolute', left: 0, right: 0, top: 3.8, height: 1.4, background: LINE_COLORS[s] }} />
          </div>
          <span style={{ fontFamily: FONT, fontSize: 10.2, color: TEXT, marginLeft: 3, whiteSpace: 'nowrap' }}>{n}</span>
        </div>
      ))}
    </div>
  );
}
